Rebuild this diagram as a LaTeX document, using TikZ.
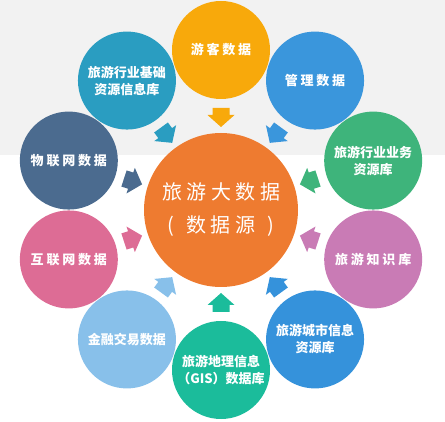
\documentclass[tikz,border=0pt]{standalone}
\usepackage{fontspec}
\setmainfont{Noto Sans CJK SC}
\definecolor{bandgray}{HTML}{F2F2F2}
\definecolor{cHub}{HTML}{EE7B30}
\definecolor{cYou}{HTML}{F8A90B}
\definecolor{cGuan}{HTML}{3A96DC}
\definecolor{cYewu}{HTML}{3EB47B}
\definecolor{cZhishi}{HTML}{C97BB5}
\definecolor{cChengshi}{HTML}{3592DB}
\definecolor{cGis}{HTML}{1BBC9B}
\definecolor{cJinrong}{HTML}{88C0EA}
\definecolor{cHulian}{HTML}{DD6C95}
\definecolor{cWulian}{HTML}{4B6B8F}
\definecolor{cJichu}{HTML}{2A9DC1}
\newcommand{\kk}{\kern2.8pt}
\newcommand{\kh}{\kern4.5pt}
\begin{document}
\begin{tikzpicture}[x=1pt,y=1pt,
  outer/.style={circle, minimum size=98pt, inner sep=0pt, text=white,
    font=\fontsize{13}{17}\selectfont\bfseries, align=center},
  hub/.style={circle, fill=cHub, minimum size=154pt, inner sep=0pt, text=white,
    font=\fontsize{20}{33}\selectfont, align=center}]
\fill[bandgray] (0,0) rectangle (445,-155);
\useasboundingbox (0,0) rectangle (445,-422);
\node[hub] (c) at (221,-210) {旅\kh 游\kh 大\kh 数\kh 据\\{(}\kern12pt 数\kh 据\kh 源\kern12pt{)}};
\node[outer, fill=cYou]      (n1)  at ([shift={(90:160)}]c.center)   {游\kk 客\kk 数\kk 据};
\node[outer, fill=cGuan]     (n2)  at ([shift={(54:160)}]c.center)   {管\kk 理\kk 数\kk 据};
\node[outer, fill=cYewu]     (n3)  at ([shift={(18:160)}]c.center)   {旅游行业业务\\资源库};
\node[outer, fill=cZhishi]   (n4)  at ([shift={(-18:160)}]c.center)  {旅\kk 游\kk 知\kk 识\kk 库};
\node[outer, fill=cChengshi] (n5)  at ([shift={(-54:160)}]c.center)  {旅游城市信息\\资源库};
\node[outer, fill=cGis]      (n6)  at ([shift={(-90:160)}]c.center)  {旅游地理信息\\（GIS）数据库};
\node[outer, fill=cJinrong]  (n7)  at ([shift={(-126:160)}]c.center) {金融交易数据};
\node[outer, fill=cHulian]   (n8)  at ([shift={(-162:160)}]c.center) {互\kk 联\kk 网\kk 数\kk 据};
\node[outer, fill=cWulian]   (n9)  at ([shift={(162:160)}]c.center)  {物\kk 联\kk 网\kk 数\kk 据};
\node[outer, fill=cJichu]    (n10) at ([shift={(126:160)}]c.center)  {旅游行业基础\\资源信息库};
\foreach \a/\col in {90/cYou, 54/cGuan, 18/cYewu, -18/cZhishi, -54/cChengshi,
                     -90/cGis, -126/cJinrong, -162/cHulian, 162/cWulian, 126/cJichu}{
  \fill[\col, shift={(c.center)}, rotate=\a]
    (102,-8.5) -- (95,-8.5) -- (95,-13.5) -- (83,0) -- (95,13.5) -- (95,8.5) -- (102,8.5) -- cycle;
}
\end{tikzpicture}
\end{document}
